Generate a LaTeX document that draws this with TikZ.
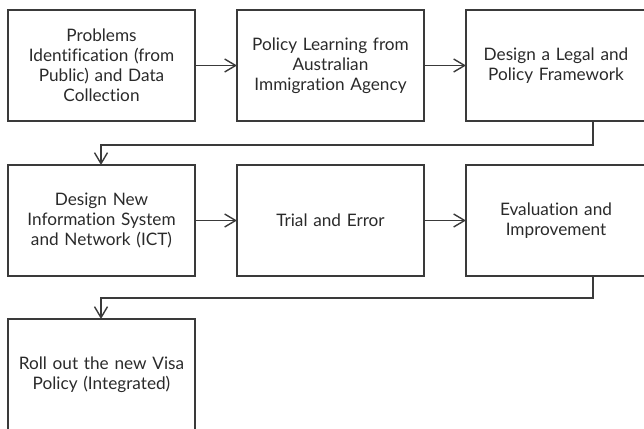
\documentclass[tikz,border=0pt]{standalone}
\usepackage{fontspec}
\setmainfont{Lato}[Ligatures=CommonOff]
\usetikzlibrary{arrows.meta}
\definecolor{ln}{HTML}{3A3A3A}
\definecolor{tx}{HTML}{2A2A2A}
\tikzset{
  box/.style={draw=ln, line width=1.4pt, minimum width=187pt, minimum height=111pt, inner sep=0pt, outer sep=0pt, anchor=north west,
    text width=178pt, align=center, font=\fontsize{17.2pt}{20pt}\selectfont, text=tx},
  conn/.style={draw=ln, line width=1.4pt, -{Straight Barb[length=11pt,width=13pt,line width=1.4pt]}},
}
\begin{document}
\begin{tikzpicture}[x=1pt,y=-1pt]
\useasboundingbox (0,0) rectangle (644,428);
\node[box] (b1) at (8,10) {Problems\\ Identification (from\\ Public) and Data\\ Collection};
\node[box] (b2) at (237,10) {Policy Learning from\\ Australian\\ Immigration Agency};
\node[box, minimum width=180pt, text width=170pt] (b3) at (466,10) {Design a Legal and\\ Policy Framework};
\node[box] (b4) at (8,165) {Design New\\ Information System\\ and Network (ICT)};
\node[box] (b5) at (237,165) {Trial and Error};
\node[box, minimum width=180pt, text width=170pt] (b6) at (466,165) {Evaluation and\\ Improvement};
\node[box] (b7) at (8,319) {Roll out the new Visa\\ Policy (Integrated)};
\coordinate (c1) at (593,145);
\coordinate (c2) at (101,145);
\coordinate (c3) at (593,298);
\coordinate (c4) at (101,298);
\draw[conn] (b1.east) -- (b2.west);
\draw[conn] (b2.east) -- (b3.west);
\draw[conn] (b4.east) -- (b5.west);
\draw[conn] (b5.east) -- (b6.west);
\draw[conn] (b3.south -| c1) -- (c1) -- (c2) -- (b4.north -| c2);
\draw[conn] (b6.south -| c3) -- (c3) -- (c4) -- (b7.north -| c4);
\end{tikzpicture}
\end{document}
